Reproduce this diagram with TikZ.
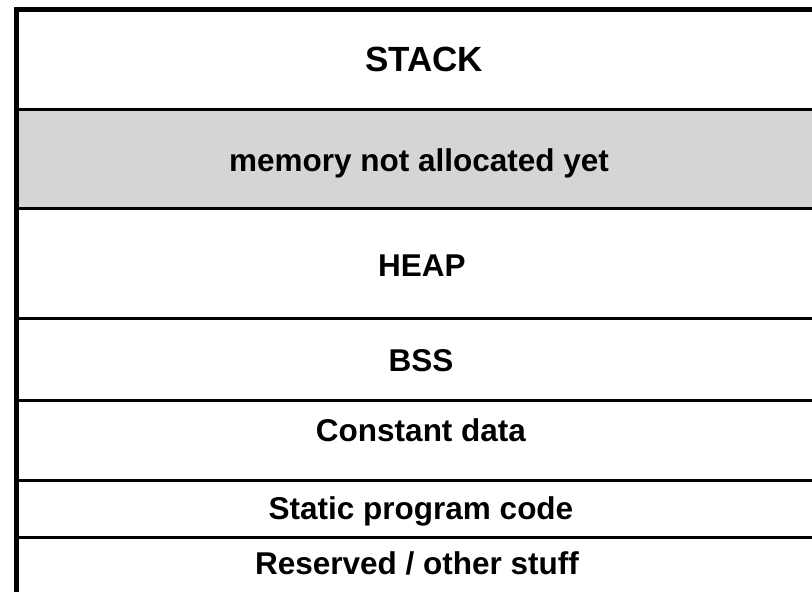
\documentclass[tikz,border=0pt]{standalone}
\usepackage{fontspec}
\setmainfont{Liberation Sans}
\begin{document}
\begin{tikzpicture}[x=1pt,y=1pt,
  sep/.style={line width=3pt,black},
  frame/.style={line width=5pt,black},
  lbl/.style={anchor=base,inner sep=0pt,font=\bfseries\fontsize{31.5}{36}\selectfont},
  biglbl/.style={anchor=base,inner sep=0pt,font=\bfseries\fontsize{35}{40}\selectfont}]
\definecolor{freegrey}{RGB}{212,214,213}
\useasboundingbox (0,0) rectangle (812,592);
% unallocated region between stack and heap
\fill[freegrey] (16.5,481) rectangle (812,383);
% region separators
\coordinate (s1l) at (16.5,482.5); \coordinate (s1r) at (812,482.5);
\coordinate (s2l) at (16.5,383);   \coordinate (s2r) at (812,383);
\coordinate (s3l) at (16.5,273);   \coordinate (s3r) at (812,273);
\coordinate (s4l) at (16.5,191.7); \coordinate (s4r) at (812,191.7);
\coordinate (s5l) at (16.5,111.5); \coordinate (s5r) at (812,111.5);
\coordinate (s6l) at (16.5,54.5);  \coordinate (s6r) at (812,54.5);
\foreach \s in {1,...,6} \draw[sep] (s\s l) -- (s\s r);
% outer frame: top edge and left edge
\coordinate (tl) at (16.5,582.5);
\coordinate (tr) at (812,582.5);
\coordinate (bl) at (16.5,0);
\draw[frame] (tr) -- (tl) -- (bl);
% labels
\node[biglbl] (stack)  at (424,520)   {STACK};
\node[lbl]    (free)   at (419,420)   {memory not allocated yet};
\node[lbl]    (heap)   at (422,315)   {HEAP};
\node[lbl]    (bss)    at (421,220)   {BSS};
\node[lbl]    (const)  at (421,150)   {Constant data};
\node[lbl]    (code)   at (421,72)    {Static program code};
\node[lbl]    (resv)   at (417,17)    {Reserved / other stuff};
\end{tikzpicture}
\end{document}
